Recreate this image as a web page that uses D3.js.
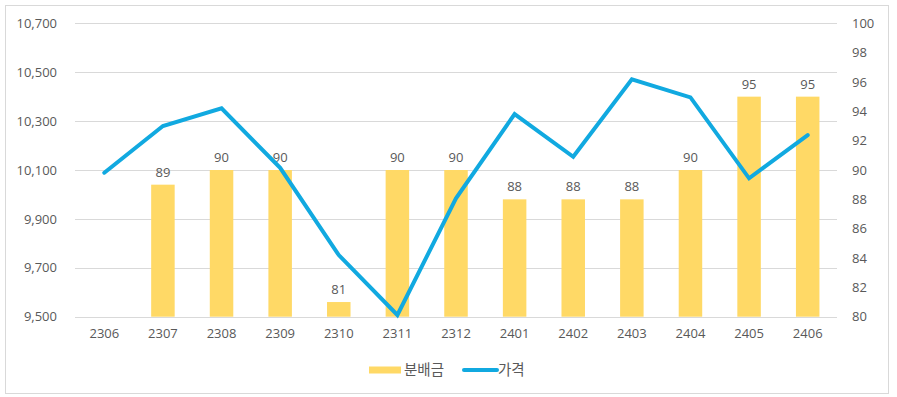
<!DOCTYPE html>
<html>
<head>
<meta charset="utf-8">
<script src="https://cdn.jsdelivr.net/npm/d3@7"></script>
<style>
html,body{margin:0;padding:0;background:#fff;}
svg{display:block;}
text{font-family:"Open Sans","Noto Sans",sans-serif;fill:#595959;}
text.kr{font-family:"Noto Sans CJK KR","Noto Sans",sans-serif;}
</style>
</head>
<body>
<svg id="chart" width="897" height="397"></svg>
<script>
const categories = ["2306","2307","2308","2309","2310","2311","2312","2401","2402","2403","2404","2405","2406"];
const distribution = [null,89,90,90,81,90,90,88,88,88,90,95,95];
const price = [10089,10280,10352,10109,9752,9507,9984,10329,10154,10471,10397,10066,10243];
const leftTicks = [9500,9700,9900,10100,10300,10500,10700];
const rightTicks = [80,82,84,86,88,90,92,94,96,98,100];
const seriesNames = ["분배금","가격"];

const svg = d3.select("#chart");
const W = 897, H = 397;
const m = {left:75, right:60, top:23.3, bottom:80.3};
const x0 = m.left, x1 = W - m.right, y0 = m.top, y1 = H - m.bottom;

svg.append("rect").attr("x",5.5).attr("y",5.5).attr("width",883).attr("height",388)
  .attr("fill","#fff").attr("stroke","#D9D9D9").attr("stroke-width",1);

const x = d3.scaleBand().domain(categories).range([x0,x1]).paddingInner(0).paddingOuter(0);
const yL = d3.scaleLinear().domain([9500,10700]).range([y1,y0]);
const yR = d3.scaleLinear().domain([80,100]).range([y1,y0]);

// gridlines
svg.append("g").selectAll("line").data(leftTicks).join("line")
  .attr("x1",x0).attr("x2",x1)
  .attr("y1",d=>Math.round(yL(d))+0.5).attr("y2",d=>Math.round(yL(d))+0.5)
  .attr("stroke","#D9D9D9").attr("stroke-width",1);

// left axis
const gL = svg.append("g").attr("transform",`translate(${x0},0)`)
  .call(d3.axisLeft(yL).tickValues(leftTicks).tickFormat(d3.format(",")).tickSize(0).tickPadding(18));
gL.select(".domain").remove();
gL.selectAll("text").style("font-size","13px").attr("fill","#595959");

// right axis
const gR = svg.append("g").attr("transform",`translate(${x1},0)`)
  .call(d3.axisRight(yR).tickValues(rightTicks).tickSize(0).tickPadding(15));
gR.select(".domain").remove();
gR.selectAll("text").style("font-size","13px").attr("fill","#595959");

// x axis
const gX = svg.append("g").attr("transform",`translate(0,${y1})`)
  .call(d3.axisBottom(x).tickSize(0).tickPadding(12));
gX.select(".domain").remove();
gX.selectAll("text").style("font-size","13px").attr("fill","#595959");

// bars
const bw = 23.5;
const barData = categories.map((c,i)=>({c, v:distribution[i]})).filter(d=>d.v!=null);
svg.append("g").selectAll("rect").data(barData).join("rect")
  .attr("x",d=>x(d.c)+x.bandwidth()/2-bw/2)
  .attr("width",bw)
  .attr("y",d=>yR(d.v))
  .attr("height",d=>y1-yR(d.v))
  .attr("fill","#FFD966");

// labels
svg.append("g").selectAll("text").data(barData).join("text")
  .attr("x",d=>x(d.c)+x.bandwidth()/2)
  .attr("y",d=>yR(d.v)-8)
  .attr("text-anchor","middle")
  .style("font-size","13px")
  .text(d=>d.v);

// line
const line = d3.line().x((d,i)=>x(categories[i])+x.bandwidth()/2).y(d=>yL(d));
svg.append("path").datum(price).attr("d",line)
  .attr("fill","none").attr("stroke","#11A9E0").attr("stroke-width",4)
  .attr("stroke-linejoin","miter").attr("stroke-linecap","round");

// legend
const lg = svg.append("g");
lg.append("rect").attr("x",369).attr("y",366.5).attr("width",32).attr("height",7).attr("fill","#FFD966");
lg.append("text").attr("class","kr").attr("x",404).attr("y",375).style("font-size","14.5px").text(seriesNames[0]);
lg.append("line").attr("x1",464).attr("x2",497).attr("y1",370).attr("y2",370)
  .attr("stroke","#11A9E0").attr("stroke-width",4).attr("stroke-linecap","round");
lg.append("text").attr("class","kr").attr("x",498).attr("y",375).style("font-size","14.5px").text(seriesNames[1]);
</script>
</body>
</html>
